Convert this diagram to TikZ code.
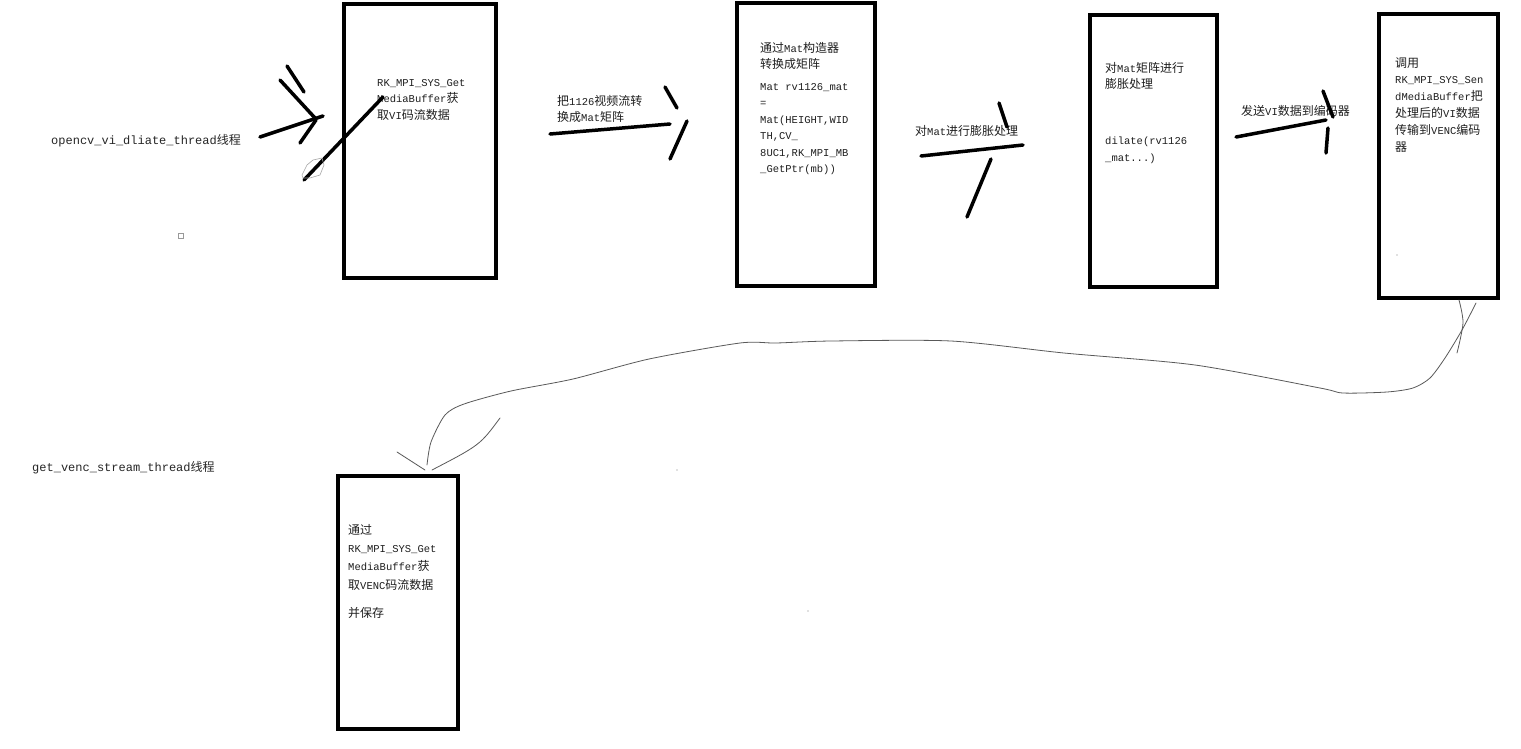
\documentclass[tikz,border=0pt]{standalone}
\usepackage{fontspec}
\setmonofont{Liberation Mono}
\newfontfamily\cjkf{Noto Sans CJK SC}
\newfontfamily\latf{Liberation Mono}
\newcommand\zh[1]{{\cjkf\fontsize{12}{16.5}\selectfont #1}}
\begin{document}
\begin{tikzpicture}[x=1pt,y=-1pt,
  box/.style={draw=black,line width=3.5pt,inner sep=0pt,anchor=north west},
  txt/.style={font=\latf\fontsize{10.5}{16.5}\selectfont,text=black!88,align=left,anchor=base west,inner sep=0pt},
  lbl/.style={font=\latf\fontsize{12}{16.5}\selectfont,text=black!85,anchor=base west,inner sep=0pt},
  stroke/.style={line width=3.5pt,line cap=round,black},
  thin/.style={line width=0.8pt,black!65,line cap=round}]
\useasboundingbox[fill=white] (0,0) rectangle (1521,748);

% boxes
\node[box,minimum width=152,minimum height=274] (b1) at (342,2) {};
\node[box,minimum width=138,minimum height=283] (b2) at (735,1) {};
\node[box,minimum width=127,minimum height=272] (b3) at (1088,13) {};
\node[box,minimum width=119,minimum height=284] (b4) at (1377,12) {};
\node[box,minimum width=120,minimum height=253] (b5) at (336,474) {};

% texts (anchor = baseline of the last line)
\node[lbl] (th1) at (51,144) {opencv\_vi\_dliate\_thread\zh{线程}};
\node[lbl] (th2) at (32,471) {get\_venc\_stream\_thread\zh{线程}};

\node[txt] (t1) at (377,119) {RK\_MPI\_SYS\_Get\\MediaBuffer\zh{获}\\\zh{取}VI\zh{码流数据}};
\node[txt] (l2) at (557,121.5) {\zh{把}1126\zh{视频流转}\\\zh{换成}Mat\zh{矩阵}};
\node[txt] (t2) at (760,172.5) {\zh{通过}Mat\zh{构造器}\\\zh{转换成矩阵}\\[5pt]Mat rv1126\_mat\\=\\Mat(HEIGHT,WID\\TH,CV\_\\8UC1,RK\_MPI\_MB\\\_GetPtr(mb))};
\node[txt] (l3) at (915,135) {\zh{对}Mat\zh{进行膨胀处理}};
\node[txt] (t3) at (1105,161) {\zh{对}Mat\zh{矩阵进行}\\\zh{膨胀处理}\\[39.5pt]dilate(rv1126\\\_mat...)};
\node[txt] (l4) at (1241,115) {\zh{发送}VI\zh{数据到编码器}};
\node[txt,font=\latf\fontsize{10.5}{16.8}\selectfont] (t4) at (1395,151) {\zh{调用}\\RK\_MPI\_SYS\_Sen\\dMediaBuffer\zh{把}\\\zh{处理后的}VI\zh{数据}\\\zh{传输到}VENC\zh{编码}\\\zh{器}};
\node[txt,font=\latf\fontsize{10.5}{18.3}\selectfont] (t5) at (348,617) {\zh{通过}\\RK\_MPI\_SYS\_Get\\MediaBuffer\zh{获}\\\zh{取}VENC\zh{码流数据}\\[9.7pt]\zh{并保存}};

% hand-drawn arrow 1
\draw[stroke] (260,137) -- (323,116);
\draw[stroke] (280,80) -- (315,118);
\draw[stroke] (300,143) -- (316,120);
\draw[stroke] (287,66) -- (304,92);
\draw[stroke] (304,180) -- (383,97);
\draw[black!35,line width=0.6pt] (302,175) -- (307,165) -- (313,160) -- (322,158) -- (324,165) -- (320,175) -- (310,178) -- (303,178) -- cycle;
% arrow 2
\draw[stroke] (550,134) -- (670,124);
\draw[stroke] (665,87) -- (677,108);
\draw[stroke] (687,121) -- (670,159);
% arrow 3
\draw[stroke] (921,156) -- (1023,145);
\draw[stroke] (999,103) -- (1007,127);
\draw[stroke] (991,159) -- (967,217);
% arrow 4
\draw[stroke] (1236,137) -- (1326,120);
\draw[stroke] (1323,91) -- (1333,117);
\draw[stroke] (1328,128) -- (1326,153);

% long thin curve from b4 to b5
\draw[thin] plot[smooth,tension=0.5] coordinates {(1459,300) (1463,323) (1457,353)};
\draw[thin] plot[smooth,tension=0.45] coordinates {(1476,303) (1462,330) (1445,358) (1430,378) (1413,388) (1387,392) (1343,393) (1320,388) (1195,365) (1064,353) (951,341) (831,341) (776,343) (740,343) (649,359) (573,379) (511,391) (464,404) (445,415) (431,442) (427,465)};
\draw[thin] (397,452) -- (425,470);
\draw[thin] (500,418) .. controls (480,445) .. (432,470);

% specks
\draw[black!40,line width=0.5pt] (178,233) rectangle (183,238);
\fill[black!50] (677,470) circle (0.6);
\fill[black!50] (808,611) circle (0.6);
\fill[black!50] (1397,255) circle (0.7);
\end{tikzpicture}
\end{document}
